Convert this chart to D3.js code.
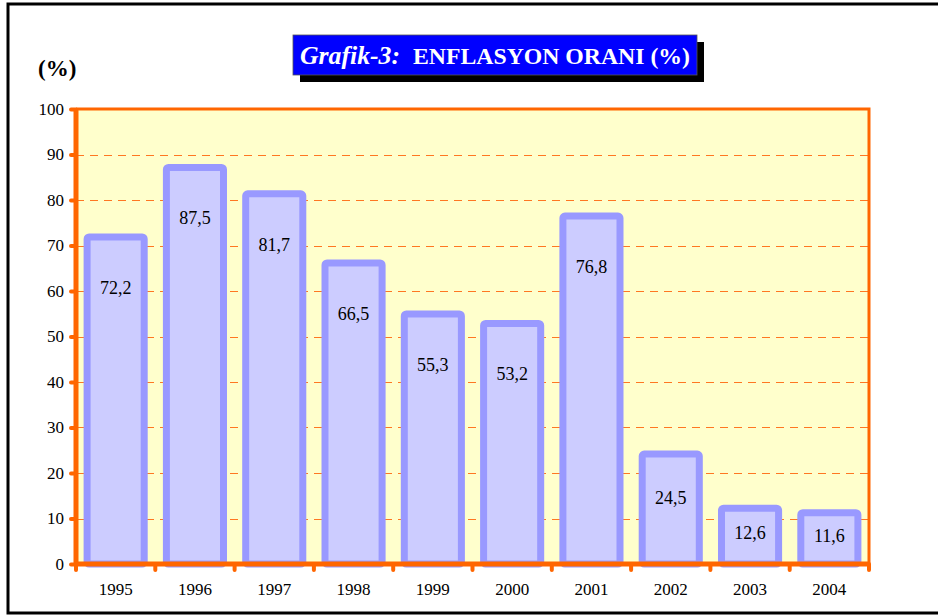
<!DOCTYPE html>
<html>
<head>
<meta charset="utf-8">
<script src="https://cdn.jsdelivr.net/npm/d3@7"></script>
<style>
  body { margin: 0; background: #fff; }
</style>
</head>
<body>
<div id="chartArea"></div>
<script>
// data
var years = ['1995','1996','1997','1998','1999','2000','2001','2002','2003','2004'];
var inflation = [72.2, 87.5, 81.7, 66.5, 55.3, 53.2, 76.8, 24.5, 12.6, 11.6];
var yTicks = [0, 10, 20, 30, 40, 50, 60, 70, 80, 90, 100];

var serif = '"Liberation Serif", "Times New Roman", serif';

function chartBars() {
    var width = 938, height = 616;
    var margin = {top: 109, right: 69, bottom: 52, left: 76};
    var plotW = width - margin.left - margin.right;   // ends at 869
    var plotH = height - margin.top - margin.bottom;  // ends at 564

    var svg = d3.select('#chartArea').append('svg')
        .attr('width', width)
        .attr('height', height)
        .style('font-family', serif);

    // outer black frame (runs off on the right)
    svg.append('rect')
        .attr('x', 8).attr('y', 4)
        .attr('width', 960).attr('height', 609)
        .attr('fill', 'none')
        .attr('stroke', '#000')
        .attr('stroke-width', 3);

    var x = d3.scaleBand().domain(years)
        .range([margin.left, margin.left + plotW])
        .paddingInner(0.28).paddingOuter(0.14);
    var y = d3.scaleLinear().domain([0, 100])
        .range([margin.top + plotH, margin.top]);

    // plot background
    svg.append('rect')
        .attr('x', margin.left).attr('y', margin.top)
        .attr('width', plotW).attr('height', plotH)
        .attr('fill', '#ffffcc');

    // dashed grid
    svg.append('g').selectAll('line')
        .data(yTicks.filter(function(d){ return d > 0 && d < 100; }))
        .enter().append('line')
        .attr('x1', margin.left).attr('x2', margin.left + plotW)
        .attr('y1', function(d){ return Math.round(y(d)) + 0.5; })
        .attr('y2', function(d){ return Math.round(y(d)) + 0.5; })
        .attr('stroke', '#ff7722')
        .attr('stroke-width', 1.2)
        .attr('stroke-dasharray', '8,6');

    // top and right border of plot
    svg.append('path')
        .attr('d', 'M' + margin.left + ',' + margin.top + 'H' + (margin.left + plotW) + 'V' + (margin.top + plotH))
        .attr('fill', 'none')
        .attr('stroke', '#ff6600')
        .attr('stroke-width', 3);

    // bars
    var bw = 7;
    svg.append('g').selectAll('rect')
        .data(inflation).enter().append('rect')
        .attr('x', function(d, i){ return x(years[i]); })
        .attr('y', function(d){ return y(d) + 1.5; })
        .attr('width', x.bandwidth())
        .attr('height', function(d){ return y(0) - y(d) - 1.5; })
        .attr('rx', 2)
        .attr('fill', '#ccccff')
        .attr('stroke', '#9999ff')
        .attr('stroke-width', bw);

    // value labels
    svg.append('g').selectAll('text')
        .data(inflation).enter().append('text')
        .attr('x', function(d, i){ return x(years[i]) + x.bandwidth() / 2; })
        .attr('y', function(d){
            var top = y(d);
            var off = Math.min(52, 0.35 * (y(0) - top) + 6);
            return top + off;
        })
        .attr('dy', '0.35em')
        .attr('text-anchor', 'middle')
        .attr('font-family', serif)
        .attr('font-size', 18)
        .attr('fill', '#000')
        .text(function(d){ return String(d).replace('.', ','); });

    // y axis
    var yAxis = svg.append('g')
        .attr('transform', 'translate(' + margin.left + ',0)')
        .call(d3.axisLeft(y).tickValues(yTicks).tickSize(5).tickPadding(7));
    yAxis.attr('font-family', serif);
    yAxis.select('.domain').remove();
    yAxis.selectAll('.tick line')
        .attr('stroke', '#ff6600').attr('stroke-width', 4).attr('stroke-linecap', 'round');
    yAxis.selectAll('.tick text')
        .attr('font-size', 17).attr('fill', '#000');

    // x axis labels
    var xAxis = svg.append('g')
        .attr('transform', 'translate(0,' + y(0) + ')')
        .call(d3.axisBottom(x).tickSize(0).tickPadding(19));
    xAxis.attr('font-family', serif);
    xAxis.select('.domain').remove();
    xAxis.selectAll('.tick text')
        .attr('font-size', 17).attr('fill', '#000');

    // x tick marks between categories
    var step = x.step();
    var bounds = d3.range(years.length + 1).map(function(i){ return margin.left + i * step; });
    svg.append('g').selectAll('line')
        .data(bounds).enter().append('line')
        .attr('x1', function(d){ return d; }).attr('x2', function(d){ return d; })
        .attr('y1', y(0)).attr('y2', y(0) + 6)
        .attr('stroke', '#ff6600').attr('stroke-width', 4).attr('stroke-linecap', 'round');

    // main axis lines
    svg.append('line')
        .attr('x1', margin.left).attr('x2', margin.left)
        .attr('y1', margin.top).attr('y2', y(0))
        .attr('stroke', '#ff6600').attr('stroke-width', 5);
    svg.append('line')
        .attr('x1', margin.left - 2).attr('x2', margin.left + plotW + 1)
        .attr('y1', y(0)).attr('y2', y(0))
        .attr('stroke', '#ff6600').attr('stroke-width', 5);

    // unit label
    svg.append('text')
        .attr('x', 38).attr('y', 76)
        .attr('font-family', serif)
        .attr('font-size', 23).attr('font-weight', 'bold')
        .text('(%)');

    // title box with shadow
    svg.append('rect')
        .attr('x', 300).attr('y', 42).attr('width', 404).attr('height', 40)
        .attr('fill', '#000');
    svg.append('rect')
        .attr('x', 293).attr('y', 35).attr('width', 404).attr('height', 40)
        .attr('fill', '#0000ff')
        .attr('stroke', '#555').attr('stroke-width', 0.8);
    svg.append('text')
        .attr('x', 300).attr('y', 64)
        .attr('fill', '#fff')
        .attr('font-family', serif)
        .attr('font-weight', 'bold')
        .attr('font-style', 'italic')
        .attr('font-size', 26)
        .attr('textLength', 100)
        .attr('lengthAdjust', 'spacingAndGlyphs')
        .text('Grafik-3:');
    svg.append('text')
        .attr('x', 413).attr('y', 64)
        .attr('fill', '#fff')
        .attr('font-family', serif)
        .attr('font-weight', 'bold')
        .attr('font-size', 24)
        .attr('textLength', 277)
        .attr('lengthAdjust', 'spacingAndGlyphs')
        .text('ENFLASYON ORANI (%)');
}
chartBars();
</script>
</body>
</html>
